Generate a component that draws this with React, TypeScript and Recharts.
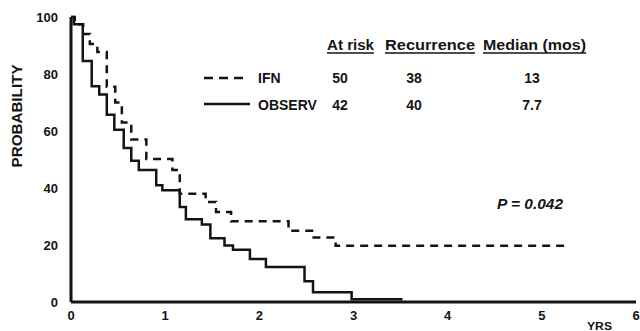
import { LineChart, Line, XAxis, YAxis } from "recharts";

document.body.style.margin = "0";

const FONT = '"Liberation Sans", Arial, sans-serif';
const INK = "#141414";

// axis ticks
const xTicks = [0, 1, 2, 3, 4, 5, 6];
const yTicks = [0, 20, 40, 60, 80, 100];

// IFN (dashed) Kaplan-Meier steps: years, probability %
const ifnYears = [0, 0.04, 0.13, 0.2, 0.28, 0.38, 0.47, 0.54, 0.64, 0.8, 1.077, 1.155, 1.43, 1.54, 1.7, 2.31, 2.56, 2.81, 5.28];
const ifnProb = [100, 97.5, 94, 90.5, 87.7, 75.5, 70, 63, 57, 50.2, 46.3, 38, 35.1, 31.6, 28.3, 25, 22.6, 19.7, 19.7];

// OBSERV (solid)
const obsYears = [0, 0.03, 0.125, 0.22, 0.3, 0.38, 0.46, 0.56, 0.64, 0.72, 0.905, 0.97, 1.155, 1.22, 1.39, 1.48, 1.63, 1.72, 1.9, 2.07, 2.48, 2.57, 2.98, 3.52];
const obsProb = [100, 97.5, 84.6, 75.7, 72.8, 65.7, 60.4, 54, 49.6, 46.3, 41, 39.2, 33.3, 29, 27.2, 22.4, 19.8, 18.3, 15.1, 12.3, 7.3, 3.4, 1, 1];

// summary table
const tableHeads = ["At risk", "Recurrence", "Median (mos)"];
const groups = ["IFN", "OBSERV"];
const atRisk = ["50", "42"];
const recurrence = ["38", "40"];
const medians = ["13", "7.7"];

const ifnData = ifnYears.map((t, i) => ({ t, p: ifnProb[i] }));
const obsData = obsYears.map((t, i) => ({ t, p: obsProb[i] }));

const tickStyle = { fontSize: 13, fontWeight: "bold" as const, fill: INK, fontFamily: FONT };

const headPos = [
  { x: 327, w: 47 },
  { x: 385, w: 90 },
  { x: 483, w: 103 },
];
const colX = [340, 414, 532];
const rowY = [83, 110];

export default function App() {
  return (
    <div style={{ position: "relative", width: 640, height: 331, background: "#fff" }}>
      <LineChart width={640} height={331} margin={{ top: 17, right: 4, bottom: 0, left: 31 }}>
        <XAxis
          type="number"
          dataKey="t"
          domain={[0, 6]}
          ticks={xTicks}
          interval={0}
          allowDataOverflow
          height={29}
          tickLine={false}
          tickSize={0}
          tickMargin={9}
          axisLine={{ stroke: INK, strokeWidth: 3 }}
          tick={tickStyle}
        />
        <YAxis
          type="number"
          domain={[0, 100]}
          ticks={yTicks}
          interval={0}
          width={40}
          tickLine={false}
          tickSize={0}
          tickMargin={13}
          axisLine={{ stroke: INK, strokeWidth: 3 }}
          tick={tickStyle}
        />
        <Line
          data={ifnData}
          dataKey="p"
          type="stepAfter"
          stroke={INK}
          strokeWidth={2.5}
          strokeDasharray="8 6"
          dot={false}
          isAnimationActive={false}
        />
        <Line
          data={obsData}
          dataKey="p"
          type="stepAfter"
          stroke={INK}
          strokeWidth={2.5}
          dot={false}
          isAnimationActive={false}
        />
      </LineChart>

      <svg
        width={640}
        height={331}
        style={{ position: "absolute", left: 0, top: 0, pointerEvents: "none" }}
        fontFamily={FONT}
        fontWeight="bold"
        fill={INK}
      >
        <text
          transform="translate(22,116) rotate(-90)"
          textAnchor="middle"
          fontSize={14}
          textLength={103}
          lengthAdjust="spacingAndGlyphs"
        >
          PROBABILITY
        </text>

        {tableHeads.map((h, i) => (
          <g key={h}>
            <text
              x={headPos[i].x}
              y={50}
              fontSize={14}
              textLength={headPos[i].w}
              lengthAdjust="spacingAndGlyphs"
            >
              {h}
            </text>
            <line
              x1={headPos[i].x}
              x2={headPos[i].x + headPos[i].w}
              y1={53}
              y2={53}
              stroke={INK}
              strokeWidth={1.3}
            />
          </g>
        ))}

        <line x1={204} x2={248} y1={78} y2={78} stroke={INK} strokeWidth={2.5} strokeDasharray="9 6" />
        <line x1={204} x2={250} y1={104} y2={104} stroke={INK} strokeWidth={2.5} />

        {groups.map((g, i) => (
          <g key={g} fontSize={14}>
            <text x={258} y={rowY[i]}>{g}</text>
            <text x={colX[0]} y={rowY[i]} textAnchor="middle">{atRisk[i]}</text>
            <text x={colX[1]} y={rowY[i]} textAnchor="middle">{recurrence[i]}</text>
            <text x={colX[2]} y={rowY[i]} textAnchor="middle">{medians[i]}</text>
          </g>
        ))}

        <text
          x={497}
          y={209}
          fontSize={14}
          fontStyle="italic"
          textLength={66}
          lengthAdjust="spacingAndGlyphs"
        >
          P = 0.042
        </text>

        <text x={587} y={330} fontSize={11} textLength={25} lengthAdjust="spacingAndGlyphs">
          YRS
        </text>
      </svg>
    </div>
  );
}
